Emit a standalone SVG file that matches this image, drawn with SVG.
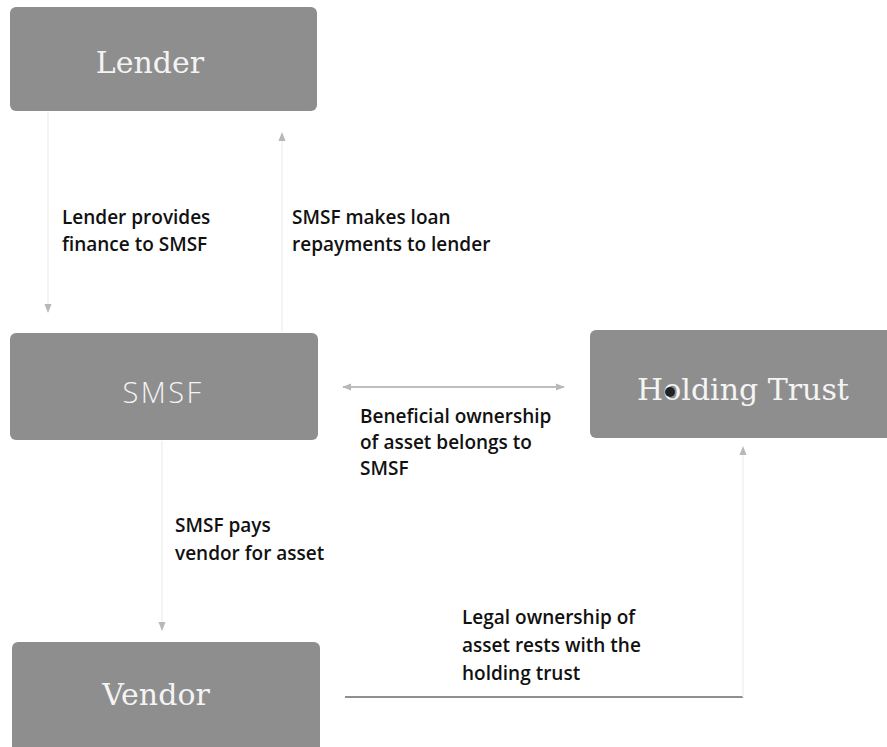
<svg xmlns="http://www.w3.org/2000/svg" width="887" height="747" viewBox="0 0 887 747">
<style>
.box{fill:#8e8e8e}
.serif{font-family:"DejaVu Serif","Liberation Serif",serif;font-size:30px;fill:#f4f4f4;text-anchor:middle}
.sans{font-family:"Open Sans","Liberation Sans",sans-serif;font-size:29px;font-weight:300;letter-spacing:2.5px;fill:#f4f4f4;text-anchor:middle}
.lbl{font-family:"Open Sans","Liberation Sans",sans-serif;font-size:19px;font-weight:600;fill:#111}
.faint{stroke:#f0f0f0;stroke-width:1.5;fill:none}
.conn{stroke:#a8a8a8;stroke-width:1.5;fill:none}
.dark{stroke:#6a6a6a;stroke-width:1.5;fill:none}
</style>
<defs>
<marker id="ah" viewBox="0 0 10 10" refX="9" refY="5" markerWidth="6" markerHeight="6" orient="auto-start-reverse">
<path d="M0,1 L10,5 L0,9 z" fill="#b8b8b8"/>
</marker>
</defs>
<rect width="887" height="747" fill="#ffffff"/>
<g id="connectors">
<line class="faint" x1="48" y1="112" x2="48" y2="312" marker-end="url(#ah)"/>
<line class="faint" x1="282" y1="332" x2="282" y2="133" marker-end="url(#ah)"/>
<line class="conn" x1="343" y1="387" x2="564" y2="387" marker-start="url(#ah)" marker-end="url(#ah)"/>
<line class="faint" x1="162" y1="441" x2="162" y2="630" marker-end="url(#ah)"/>
<path class="dark" d="M345,697 L743,697"/>
<line class="faint" x1="743" y1="697" x2="743" y2="447" marker-end="url(#ah)"/>
</g>
<g id="lender">
<rect class="box" x="10" y="7" width="307" height="104" rx="6"/>
<text class="serif" x="150" y="73">Lender</text>
</g>
<g id="smsf">
<rect class="box" x="10" y="333" width="308" height="107" rx="6"/>
<text class="sans" x="163" y="403">SMSF</text>
</g>
<g id="holding-trust">
<rect class="box" x="590" y="330" width="305" height="108" rx="6"/>
<text class="serif" x="743" y="400">Holding Trust</text>
<circle cx="670" cy="392" r="5" fill="#222"/>
</g>
<g id="vendor">
<rect class="box" x="12" y="642" width="308" height="115" rx="6"/>
<text class="serif" x="156" y="705">Vendor</text>
</g>
<g id="labels">
<text class="lbl" x="62" y="224">Lender provides</text>
<text class="lbl" x="62" y="251">finance to SMSF</text>
<text class="lbl" x="292" y="224">SMSF makes loan</text>
<text class="lbl" x="292" y="251">repayments to lender</text>
<text class="lbl" x="360" y="423">Beneficial ownership</text>
<text class="lbl" x="360" y="449">of asset belongs to</text>
<text class="lbl" x="360" y="475">SMSF</text>
<text class="lbl" x="175" y="532">SMSF pays</text>
<text class="lbl" x="175" y="560">vendor for asset</text>
<text class="lbl" x="462" y="624">Legal ownership of</text>
<text class="lbl" x="462" y="652">asset rests with the</text>
<text class="lbl" x="462" y="680">holding trust</text>
</g>
</svg>
